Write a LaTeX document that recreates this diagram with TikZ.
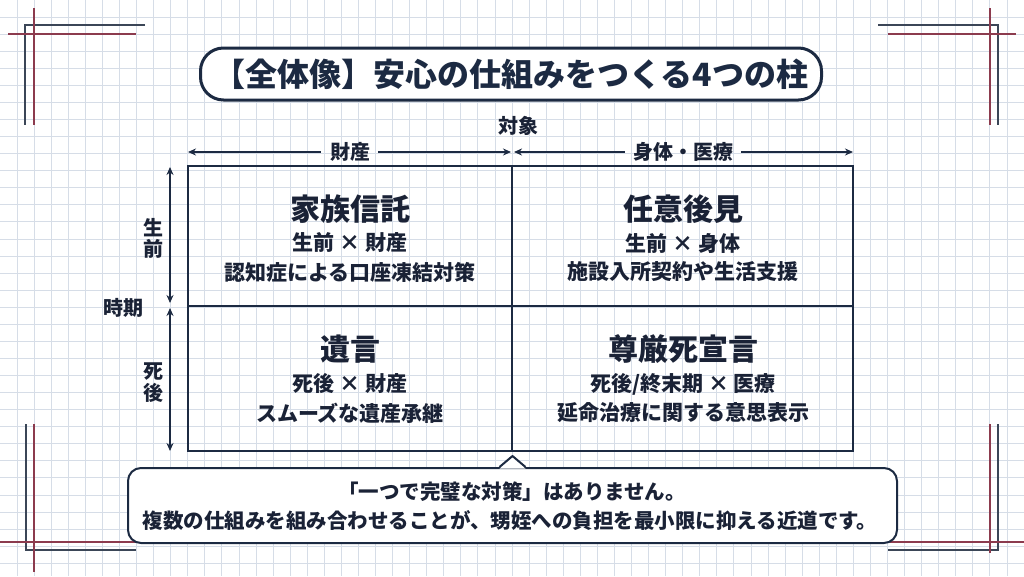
\documentclass[tikz,border=0pt]{standalone}
\usepackage{fontspec}
\setmainfont{Noto Sans CJK JP}
\usetikzlibrary{arrows.meta,calc}
\definecolor{navy}{HTML}{1C2A42}
\definecolor{ink}{HTML}{1A2236}
\definecolor{gridc}{HTML}{D6DDE7}
\definecolor{cdark}{HTML}{3B4657}
\definecolor{cred}{HTML}{8C3B4E}
\tikzset{
  axislab/.style={font=\bfseries\fontsize{20}{22}\selectfont, text=ink, inner sep=0pt},
  axisline/.style={draw=navy, line width=1.5pt, -{Stealth[length=8pt,width=7pt]}},
  celltitle/.style={font=\bfseries\fontsize{30}{34}\selectfont, text=ink, inner sep=0pt},
  cellsub/.style={font=\bfseries\fontsize{21}{24}\selectfont, text=ink, inner sep=0pt},
  notetext/.style={font=\bfseries\fontsize{20.5}{23}\selectfont, text=ink, inner sep=0pt},
  cornerd/.style={draw=cdark, line width=2pt},
  cornerr/.style={draw=cred, line width=1.6pt},
}
\begin{document}
\begin{tikzpicture}[x=1pt,y=-1pt]
\useasboundingbox (0,0) rectangle (1024,576);
\fill[white] (0,0) rectangle (1024,576);
% grid
\foreach \i in {1,...,60} {
  \draw[gridc, line width=0.8pt] ({\i*17.0667},0) -- ({\i*17.0667},576);
}
\foreach \j in {1,...,33} {
  \draw[gridc, line width=0.8pt] (0,{\j*17.0667}) -- (1024,{\j*17.0667});
}
% corner ornaments
\draw[cornerd] (145,25) -- (25,25) -- (25,125);
\draw[cornerr] (8,34) -- (136,34);
\draw[cornerr] (34,8) -- (34,125);
\draw[cornerd] (878,25) -- (998,25) -- (998,125);
\draw[cornerr] (888,34) -- (1016,34);
\draw[cornerr] (990,8) -- (990,125);
\draw[cornerd] (26,424) -- (26,550) -- (136,550);
\draw[cornerr] (34,424) -- (34,572);
\draw[cornerr] (0,542) -- (136,542);
\draw[cornerd] (998,424) -- (998,550) -- (888,550);
\draw[cornerr] (990,424) -- (990,553);
\draw[cornerr] (890,542) -- (1024,542);
% title
\node[draw=navy, line width=3pt, fill=white, rounded corners=23pt,
      minimum width=621pt, minimum height=52pt, inner sep=0pt,
      font=\bfseries\fontsize{32}{36}\selectfont, text=navy] (title) at (511,74)
      {【全体像】安心の仕組みをつくる4つの柱};
% axis labels
\node[axislab] (taisho) at (518,126) {対象};
\node[axislab] (zaisan) at (350,152) {財産};
\node[axislab] (shintai) at (683,152) {身体・医療};
\coordinate (tA) at (188,152);
\coordinate (tB) at (511,152);
\coordinate (tC) at (514,152);
\coordinate (tD) at (853,152);
\draw[axisline] ([xshift=-9pt]zaisan.west) -- (tA);
\draw[axisline] ([xshift=8pt]zaisan.east) -- (tB);
\draw[axisline] ([xshift=-8pt]shintai.west) -- (tC);
\draw[axisline] ([xshift=8pt]shintai.east) -- (tD);
\node[axislab] (jiki) at (123,308) {時期};
\node[axislab, align=center, font=\bfseries\fontsize{20}{21}\selectfont] (seizen) at (153,238) {生\\前};
\node[axislab, align=center, font=\bfseries\fontsize{20}{22}\selectfont] (shigo) at (153,383) {死\\後};
\coordinate (lA) at (170,167);
\coordinate (lB) at (170,303);
\coordinate (lC) at (170,308);
\coordinate (lD) at (170,451);
\draw[navy, line width=1.5pt, {Stealth[length=8pt,width=7pt]}-{Stealth[length=8pt,width=7pt]}] (lA) -- (lB);
\draw[navy, line width=1.5pt, {Stealth[length=8pt,width=7pt]}-{Stealth[length=8pt,width=7pt]}] (lC) -- (lD);
% matrix
\node[draw=navy, line width=2.5pt, minimum width=665pt, minimum height=285pt, inner sep=0pt] (grid) at (520.5,308.5) {};
\coordinate (vT) at (512,166);
\coordinate (vB) at (512,451);
\coordinate (hL) at (188,306);
\coordinate (hR) at (853,306);
\draw[navy, line width=2pt] (vT) -- (vB);
\draw[navy, line width=2pt] (hL) -- (hR);
% cells
\node[celltitle] (c1t) at (350,209) {家族信託};
\node[cellsub] (c1s) at (350,243) {生前 × 財産};
\node[cellsub] (c1d) at (350,272) {認知症による口座凍結対策};
\node[celltitle] (c2t) at (683,209) {任意後見};
\node[cellsub] (c2s) at (683,243) {生前 × 身体};
\node[cellsub] (c2d) at (683,272) {施設入所契約や生活支援};
\node[celltitle] (c3t) at (350,349) {遺言};
\node[cellsub] (c3s) at (350,384) {死後 × 財産};
\node[cellsub] (c3d) at (350,413) {スムーズな遺産承継};
\node[celltitle] (c4t) at (683,349) {尊厳死宣言};
\node[cellsub] (c4s) at (683,384) {死後/終末期 × 医療};
\node[cellsub] (c4d) at (683,413) {延命治療に関する意思表示};
% callout
\node[draw=navy, line width=2pt, fill=white, rounded corners=13pt,
      minimum width=769pt, minimum height=75pt, inner sep=0pt] (note) at (512.5,505.5) {};
\coordinate (pL) at ($(note.north)+(-13,0)$);
\coordinate (pA) at ($(note.north)+(0,-11)$);
\coordinate (pR) at ($(note.north)+(13,0)$);
\fill[white] ($(pL)+(0,1.5)$) -- (pA) -- ($(pR)+(0,1.5)$) -- cycle;
\draw[navy, line width=2pt, line join=round] (pL) -- (pA) -- (pR);
\node[notetext] (n1) at (512,492) {「一つで完璧な対策」はありません。};
\node[notetext] (n2) at (510,521) {複数の仕組みを組み合わせることが、甥姪への負担を最小限に抑える近道です。};
\end{tikzpicture}
\end{document}
